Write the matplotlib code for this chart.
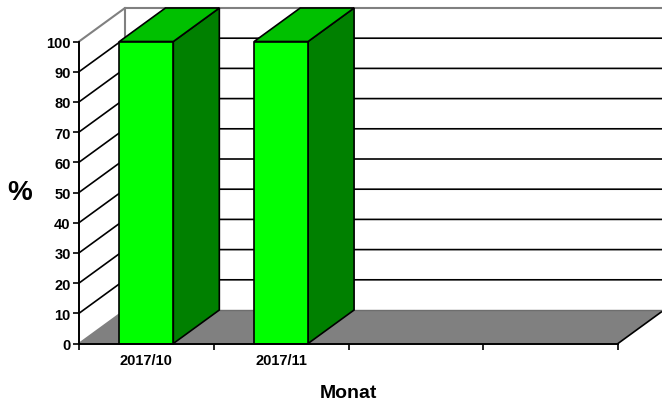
import matplotlib
matplotlib.use('Agg')
import matplotlib.pyplot as plt
from matplotlib.patches import Polygon

months = ['2017/10', '2017/11', '', '']
values = [100, 100]
y_ticks = [0, 10, 20, 30, 40, 50, 60, 70, 80, 90, 100]

W, H = 662, 406
# front plane of the fake 3d box, in pixels
left, right, bottom, top = 79, 618, 344.5, 42.5
px_x = (right - left) / len(months)
px_y = (bottom - top) / 100
# depth offset in data units
dx = 46 / px_x
dy = 33.5 / px_y
bar_w = 0.4

plt.rcParams['font.family'] = ['Liberation Sans', 'DejaVu Sans']
plt.rcParams['font.weight'] = 'bold'

fig = plt.figure(figsize=(W / 100, H / 100), dpi=100)
ax = fig.add_axes([left / W, 1 - bottom / H, (right - left) / W, (bottom - top) / H])
ax.set_xlim(0, len(months))
ax.set_ylim(0, 100)
ax.patch.set_visible(False)
for s in ['top', 'right']:
    ax.spines[s].set_visible(False)
for s in ['left', 'bottom']:
    ax.spines[s].set_linewidth(1.4)
    ax.spines[s].set_zorder(10)

n = len(months)

# floor
ax.add_patch(Polygon([(0, 0), (n, 0), (n + dx, dy), (dx, dy)], closed=True, fc='#808080',
                     ec='none', clip_on=False, zorder=1))
ax.plot([n, n + dx], [0, dy], color='black', lw=1.2, clip_on=False, zorder=2)
ax.plot([dx, n + dx], [dy, dy], color='#6e6e6e', lw=1, clip_on=False, zorder=2)

# gridlines, diagonal part on the side wall then along the back wall
for v in y_ticks[1:]:
    c = '#808080' if v == 100 else 'black'
    w = 1.5 if v == 100 else 1.2
    ax.plot([0, dx, n + dx], [v, v + dy, v + dy], color=c, lw=w, clip_on=False, zorder=2)
ax.plot([0, dx], [0, dy], color='#808080', lw=1.2, clip_on=False, zorder=2)
ax.plot([dx, dx], [dy, 100 + dy], color='#808080', lw=1.5, clip_on=False, zorder=2)

# bars
for i, v in enumerate(values):
    x0 = i + 0.5 - bar_w / 2
    x1 = x0 + bar_w
    ax.add_patch(Polygon([(x1, 0), (x1 + dx, dy), (x1 + dx, v + dy), (x1, v)], closed=True,
                         fc='#008000', ec='black', lw=1.2, clip_on=False, zorder=3))
    ax.add_patch(Polygon([(x0, v), (x1, v), (x1 + dx, v + dy), (x0 + dx, v + dy)], closed=True,
                         fc='#00c000', ec='black', lw=1.2, clip_on=False, zorder=3))
    ax.bar(i + 0.5, v, width=bar_w, color='#00ff00', edgecolor='black', linewidth=1.2,
           clip_on=False, zorder=4)

ax.set_yticks(y_ticks)
ax.set_xticks(range(n + 1))
ax.set_xticklabels([])
ax.set_xticks([i + 0.5 for i in range(n)], labels=months, minor=True)
ax.tick_params(axis='x', which='minor', length=0, labelsize=10.5, pad=7)
ax.tick_params(axis='x', which='major', length=4, width=1.2)
ax.tick_params(axis='y', length=4, width=1.2, labelsize=10.5, pad=2)

fig.text(20 / W, 1 - 193 / H, '%', fontsize=20, fontweight='bold', ha='center', va='center')
fig.text(348 / W, 1 - 394 / H, 'Monat', fontsize=14, fontweight='bold', ha='center', va='center')

fig.savefig('out.png', dpi=100)
